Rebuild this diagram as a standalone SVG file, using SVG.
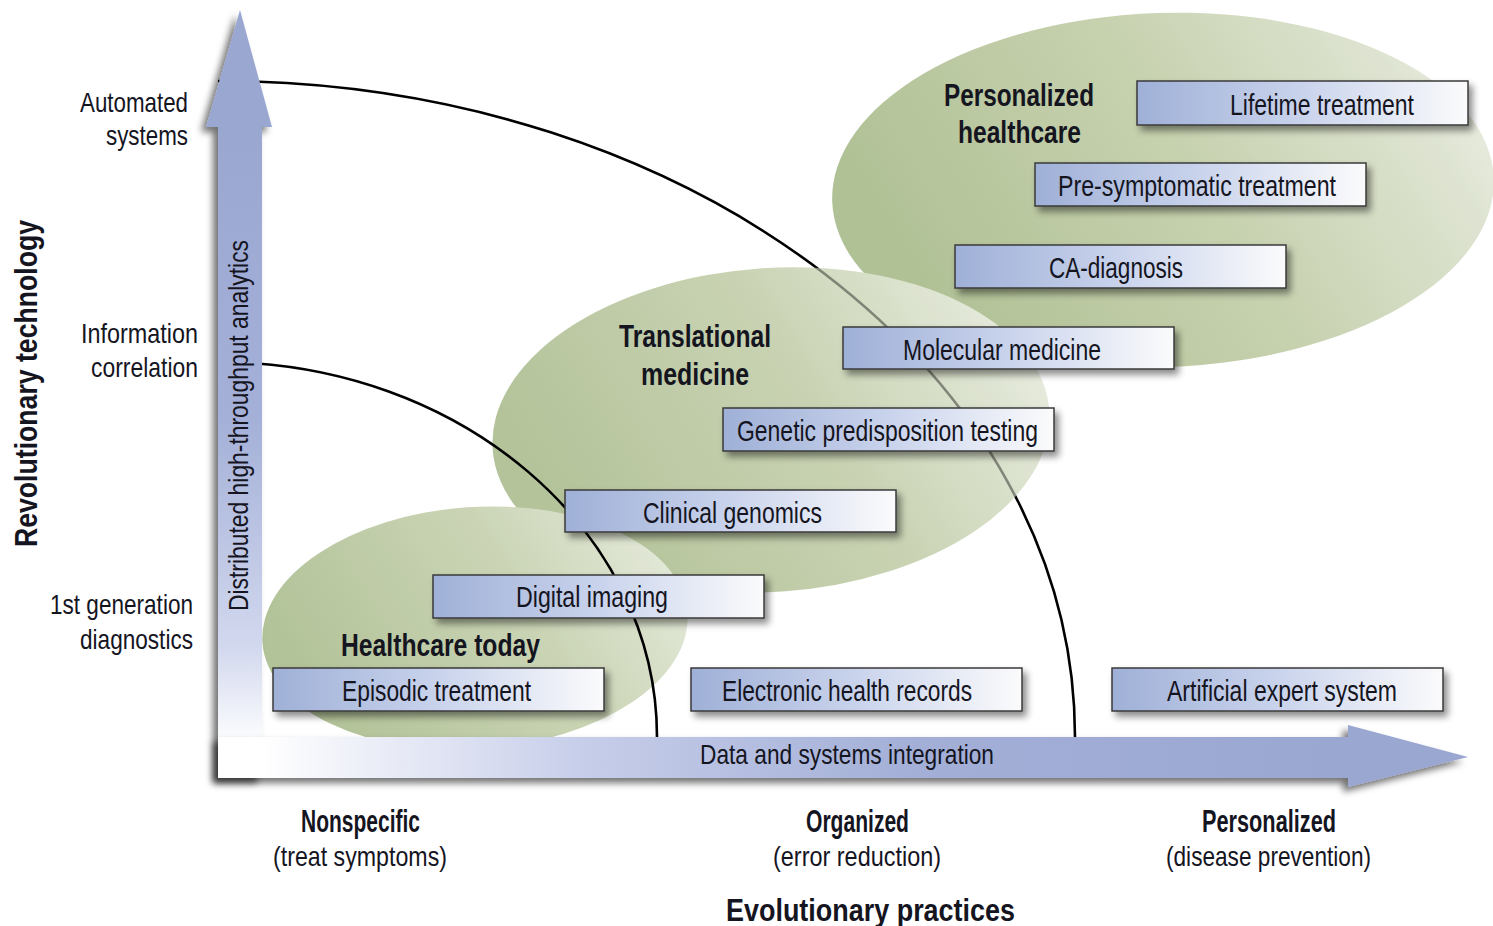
<svg xmlns="http://www.w3.org/2000/svg" width="1493" height="926" viewBox="0 0 1493 926">
<style>
text{font-family:"Liberation Sans Narrow","Liberation Sans",Arial,sans-serif;fill:#15151f;}
.bt{font-size:29px;}
.lb{font-size:31px;font-weight:bold;}
.ax{font-size:28px;}
.box{stroke:#3a3a3a;stroke-width:1.5;fill:url(#gBox);filter:url(#sBox);}
.curve{fill:none;stroke:#000;stroke-width:2.6;}
</style>
<defs>
<linearGradient id="gBox" x1="0" y1="0" x2="1" y2="0">
<stop offset="0" stop-color="#9fb0d7"/>
<stop offset="0.5" stop-color="#c9d3ec"/>
<stop offset="1" stop-color="#fbfbfc"/>
</linearGradient>
<linearGradient id="gE1" x1="0" y1="0.3" x2="1" y2="0">
<stop offset="0" stop-color="#b1c196"/>
<stop offset="0.45" stop-color="#c6d1ae"/>
<stop offset="0.8" stop-color="#dde3d0"/>
<stop offset="1" stop-color="#f1f3ec"/>
</linearGradient>
<linearGradient id="gE2" x1="0" y1="0.3" x2="1" y2="0">
<stop offset="0" stop-color="#b4c39a"/>
<stop offset="0.5" stop-color="#c9d3b3"/>
<stop offset="0.8" stop-color="#dfe5d3"/>
<stop offset="1" stop-color="#f0f2eb"/>
</linearGradient>
<linearGradient id="gE3" x1="0" y1="0.3" x2="1" y2="0">
<stop offset="0" stop-color="#b3c399"/>
<stop offset="0.55" stop-color="#cbd5b6"/>
<stop offset="1" stop-color="#eaeee2"/>
</linearGradient>
<linearGradient id="gV" gradientUnits="userSpaceOnUse" x1="0" y1="127" x2="0" y2="778">
<stop offset="0" stop-color="#9aa7d1"/>
<stop offset="0.45" stop-color="#a4b0d8"/>
<stop offset="0.8" stop-color="#d2d8ee"/>
<stop offset="0.95" stop-color="#ffffff"/>
</linearGradient>
<linearGradient id="gH" gradientUnits="userSpaceOnUse" x1="262" y1="0" x2="1350" y2="0">
<stop offset="0" stop-color="#ffffff"/>
<stop offset="0.3" stop-color="#c6cde9"/>
<stop offset="0.6" stop-color="#a3afd7"/>
<stop offset="1" stop-color="#9aa7d1"/>
</linearGradient>
<filter id="sArr" x="-20%" y="-20%" width="140%" height="140%">
<feDropShadow dx="-5" dy="5" stdDeviation="3.5" flood-color="#000" flood-opacity="0.55"/>
</filter>
<filter id="sBox" x="-10%" y="-30%" width="125%" height="180%">
<feDropShadow dx="4" dy="5" stdDeviation="3.5" flood-color="#000" flood-opacity="0.45"/>
</filter>
<mask id="mFade" maskUnits="userSpaceOnUse" x="0" y="0" width="1493" height="926">
<rect x="0" y="0" width="1493" height="926" fill="#fff"/>
<g fill="#000" fill-opacity="0.6">
<ellipse cx="1163" cy="190" rx="331" ry="177" transform="rotate(-2 1163 190)"/>
<ellipse cx="771" cy="430" rx="279" ry="162" transform="rotate(-4 771 430)"/>
</g>
</mask>
</defs>

<g id="regions">
<ellipse id="region-personalized" cx="1163" cy="190" rx="331" ry="177" transform="rotate(-2 1163 190)" fill="url(#gE1)"/>
<ellipse id="region-translational" cx="771" cy="430" rx="279" ry="162" transform="rotate(-4 771 430)" fill="url(#gE2)"/>
<ellipse id="region-today" cx="475" cy="628" rx="213" ry="121" transform="rotate(-4 475 628)" fill="url(#gE3)"/>
</g>

<g id="connectors">
<path class="curve" d="M218,81 C691,81 1075,375 1075,737" mask="url(#mFade)"/>
<path class="curve" d="M218,362 C460,362 657,530 657,737"/>
</g>

<g id="axis-vertical" filter="url(#sArr)">
<polygon points="240,10 272,127 262,127 262,778 218,778 218,127 206,127" fill="url(#gV)"/>
</g>
<g id="axis-horizontal" filter="url(#sArr)">
<polygon points="218,737 1348,737 1348,725 1468,757 1348,787 1348,778 218,778" fill="url(#gH)"/>
<rect x="218" y="737" width="44" height="41" fill="#ffffff"/>
</g>

<g id="node-lifetime"><rect class="box" x="1137" y="81" width="331" height="44"/><text class="bt" x="1230" y="115" textLength="184" lengthAdjust="spacingAndGlyphs">Lifetime treatment</text></g>
<g id="node-presymptomatic"><rect class="box" x="1035" y="163" width="331" height="43"/><text class="bt" x="1058" y="196" textLength="278" lengthAdjust="spacingAndGlyphs">Pre-symptomatic treatment</text></g>
<g id="node-ca"><rect class="box" x="955" y="245" width="331" height="43"/><text class="bt" x="1049" y="278" textLength="134" lengthAdjust="spacingAndGlyphs">CA-diagnosis</text></g>
<g id="node-molecular"><rect class="box" x="843" y="327" width="331" height="42"/><text class="bt" x="903" y="360" textLength="198" lengthAdjust="spacingAndGlyphs">Molecular medicine</text></g>
<g id="node-genetic"><rect class="box" x="723" y="408" width="331" height="43"/><text class="bt" x="737" y="441" textLength="301" lengthAdjust="spacingAndGlyphs">Genetic predisposition testing</text></g>
<g id="node-clinical"><rect class="box" x="565" y="490" width="331" height="42"/><text class="bt" x="643" y="523" textLength="179" lengthAdjust="spacingAndGlyphs">Clinical genomics</text></g>
<g id="node-digital"><rect class="box" x="433" y="575" width="331" height="43"/><text class="bt" x="516" y="607" textLength="152" lengthAdjust="spacingAndGlyphs">Digital imaging</text></g>
<g id="node-episodic"><rect class="box" x="273" y="668" width="331" height="43"/><text class="bt" x="342" y="701" textLength="189" lengthAdjust="spacingAndGlyphs">Episodic treatment</text></g>
<g id="node-ehr"><rect class="box" x="691" y="668" width="331" height="43"/><text class="bt" x="722" y="701" textLength="250" lengthAdjust="spacingAndGlyphs">Electronic health records</text></g>
<g id="node-expert"><rect class="box" x="1112" y="668" width="331" height="43"/><text class="bt" x="1167" y="701" textLength="230" lengthAdjust="spacingAndGlyphs">Artificial expert system</text></g>

<g id="region-labels">
<text class="lb" x="944" y="106" textLength="150" lengthAdjust="spacingAndGlyphs">Personalized</text>
<text class="lb" x="958" y="143" textLength="123" lengthAdjust="spacingAndGlyphs">healthcare</text>
<text class="lb" x="619" y="347" textLength="152" lengthAdjust="spacingAndGlyphs">Translational</text>
<text class="lb" x="641" y="385" textLength="108" lengthAdjust="spacingAndGlyphs">medicine</text>
<text class="lb" x="341" y="656" textLength="199" lengthAdjust="spacingAndGlyphs">Healthcare today</text>
</g>

<g id="axis-labels">
<text class="ax" x="80" y="112" textLength="108" lengthAdjust="spacingAndGlyphs">Automated</text>
<text class="ax" x="106" y="145" textLength="82" lengthAdjust="spacingAndGlyphs">systems</text>
<text class="ax" x="81" y="343" textLength="117" lengthAdjust="spacingAndGlyphs">Information</text>
<text class="ax" x="91" y="377" textLength="107" lengthAdjust="spacingAndGlyphs">correlation</text>
<text class="ax" x="50" y="614" textLength="143" lengthAdjust="spacingAndGlyphs">1st generation</text>
<text class="ax" x="80" y="649" textLength="113" lengthAdjust="spacingAndGlyphs">diagnostics</text>
<text class="lb" transform="translate(37,547) rotate(-90)" x="0" y="0" textLength="327" lengthAdjust="spacingAndGlyphs">Revolutionary technology</text>
<text class="ax" transform="translate(248,611) rotate(-90)" x="0" y="0" textLength="371" lengthAdjust="spacingAndGlyphs">Distributed high-throughput analytics</text>
<text class="ax" x="700" y="764" textLength="294" lengthAdjust="spacingAndGlyphs">Data and systems integration</text>
<text class="lb" x="301" y="832" textLength="119" lengthAdjust="spacingAndGlyphs">Nonspecific</text>
<text class="ax" x="273" y="866" textLength="174" lengthAdjust="spacingAndGlyphs">(treat symptoms)</text>
<text class="lb" x="806" y="832" textLength="103" lengthAdjust="spacingAndGlyphs">Organized</text>
<text class="ax" x="773" y="866" textLength="168" lengthAdjust="spacingAndGlyphs">(error reduction)</text>
<text class="lb" x="1202" y="832" textLength="134" lengthAdjust="spacingAndGlyphs">Personalized</text>
<text class="ax" x="1166" y="866" textLength="205" lengthAdjust="spacingAndGlyphs">(disease prevention)</text>
<text class="lb" x="726" y="921" textLength="289" lengthAdjust="spacingAndGlyphs">Evolutionary practices</text>
</g>
</svg>
